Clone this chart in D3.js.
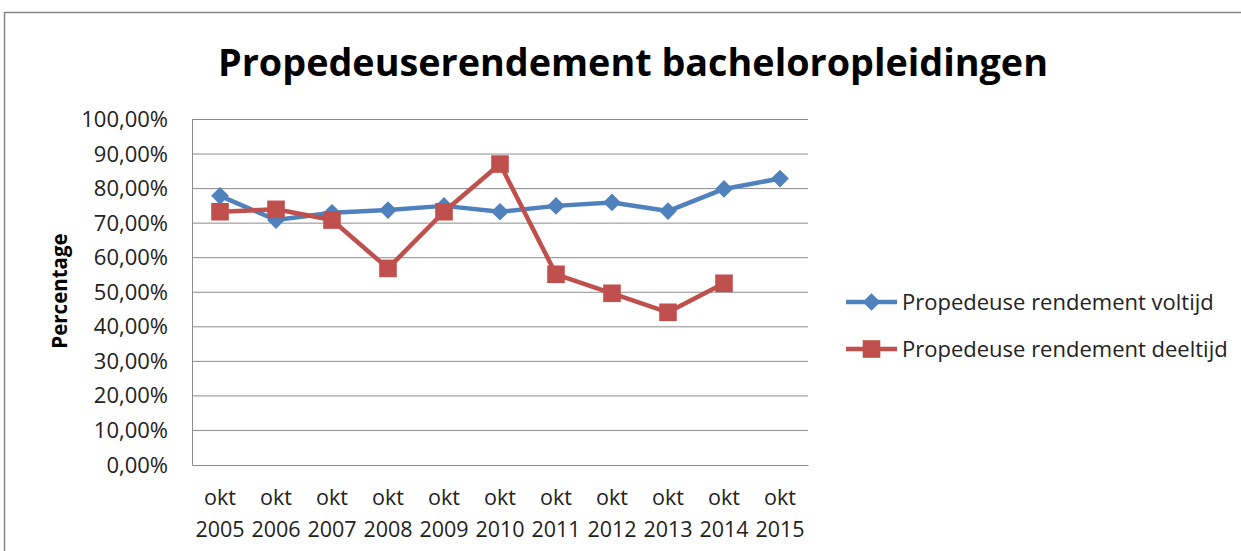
<!DOCTYPE html>
<html>
<head>
<meta charset="utf-8">
<script src="https://cdn.jsdelivr.net/npm/d3@7"></script>
<style>
  body { margin: 0; background: #fff; }
  svg { display: block; font-family: "Open Sans", sans-serif; }
</style>
</head>
<body>
<div class="chart"></div>
<script>
const years = ["2005", "2006", "2007", "2008", "2009", "2010", "2011", "2012", "2013", "2014", "2015"];
const voltijd = [0.779, 0.709, 0.730, 0.738, 0.750, 0.733, 0.750, 0.760, 0.735, 0.799, 0.829];
const deeltijd = [0.733, 0.740, 0.709, 0.569, 0.733, 0.871, 0.552, 0.497, 0.442, 0.526, null];
const yTicks = [0, 0.1, 0.2, 0.3, 0.4, 0.5, 0.6, 0.7, 0.8, 0.9, 1.0];
const seriesNames = ["Propedeuse rendement voltijd", "Propedeuse rendement deeltijd"];
const colors = ["#4F81BD", "#C0504D"];

const w = 1241;
const h = 551;
const plotLeft = 192, plotRight = 808, plotTop = 119.5, plotBottom = 465;

const svg = d3.select(".chart")
    .append("svg")
    .attr("width", w)
    .attr("height", h);

// outer chart frame
svg.append("rect")
    .attr("x", 4.5).attr("y", 12.5)
    .attr("width", w + 10).attr("height", h + 10)
    .attr("fill", "none")
    .attr("stroke", "#868686")
    .attr("stroke-width", 1.5);

svg.append("text")
    .attr("x", 633)
    .attr("y", 76)
    .attr("text-anchor", "middle")
    .attr("font-size", 37)
    .attr("font-weight", "bold")
    .attr("textLength", 830)
    .attr("lengthAdjust", "spacingAndGlyphs")
    .text("Propedeuserendement bacheloropleidingen");

const x = d3.scaleBand().domain(years).range([plotLeft, plotRight]);
const y = d3.scaleLinear().domain([0, 1]).range([plotBottom, plotTop]);
const fmt = d => d3.format(".2f")(d * 100).replace(".", ",") + "%";

// gridlines
svg.append("g")
    .selectAll("line")
    .data(yTicks.slice(1))
    .enter()
    .append("line")
    .attr("x1", plotLeft).attr("x2", plotRight)
    .attr("y1", d => y(d)).attr("y2", d => y(d))
    .attr("stroke", "#8c8c8c")
    .attr("stroke-width", 1);

const yAxis = d3.axisLeft(y).tickValues(yTicks).tickFormat(fmt).tickSize(0).tickPadding(24);
const yAxisG = svg.append("g")
    .attr("transform", `translate(${plotLeft},0)`)
    .call(yAxis);
yAxisG.select(".domain").attr("stroke", "#8c8c8c");
yAxisG.selectAll("text")
    .attr("font-size", 22)
    .attr("font-family", "Open Sans")
    .attr("fill", "#222");

const xAxis = d3.axisBottom(x).tickSize(0).tickFormat("");
const xAxisG = svg.append("g")
    .attr("transform", `translate(0,${plotBottom})`)
    .call(xAxis);
xAxisG.select(".domain").attr("stroke", "#8c8c8c");
xAxisG.selectAll(".tick")
    .append("text")
    .attr("text-anchor", "middle")
    .attr("font-size", 21.5)
    .attr("font-family", "Open Sans")
    .attr("fill", "#222")
    .each(function (d) {
        const t = d3.select(this);
        t.append("tspan").attr("x", 0).attr("y", 40).text("okt");
        t.append("tspan").attr("x", 0).attr("y", 72).text(d);
    });

svg.append("text")
    .attr("transform", `translate(67,291) rotate(-90)`)
    .attr("text-anchor", "middle")
    .attr("font-size", 20.5)
    .attr("font-weight", "bold")
    .text("Percentage");

const cx = d => x(d) + x.bandwidth() / 2;
const line = d3.line()
    .defined(d => d.v !== null)
    .x(d => cx(d.year))
    .y(d => y(d.v));

const series = [voltijd, deeltijd].map((vals, i) => ({
    name: seriesNames[i],
    color: colors[i],
    shape: i === 0 ? d3.symbolDiamond2 : d3.symbolSquare,
    size: i === 0 ? 200 : 310,
    values: years.map((yr, j) => ({ year: yr, v: vals[j] }))
}));

series.forEach(s => {
    svg.append("path")
        .datum(s.values)
        .attr("d", line)
        .attr("fill", "none")
        .attr("stroke", s.color)
        .attr("stroke-width", 4.5)
        .attr("stroke-linejoin", "round");
    svg.append("g")
        .selectAll("path")
        .data(s.values.filter(d => d.v !== null))
        .enter()
        .append("path")
        .attr("transform", d => `translate(${cx(d.year)},${y(d.v)})`)
        .attr("d", d3.symbol(s.shape, s.size))
        .attr("fill", s.color);
});

// legend
const legend = svg.append("g")
    .selectAll("g")
    .data(series)
    .enter()
    .append("g")
    .attr("transform", (d, i) => `translate(846,${302 + i * 47})`);
legend.append("line")
    .attr("x1", 0).attr("x2", 51)
    .attr("stroke", d => d.color)
    .attr("stroke-width", 4.5);
legend.append("path")
    .attr("transform", "translate(25.5,0)")
    .attr("d", d => d3.symbol(d.shape, d.size)())
    .attr("fill", d => d.color);
legend.append("text")
    .attr("x", 56)
    .attr("y", 8)
    .attr("font-size", 22)
    .attr("fill", "#222")
    .text(d => d.name);
</script>
</body>
</html>
